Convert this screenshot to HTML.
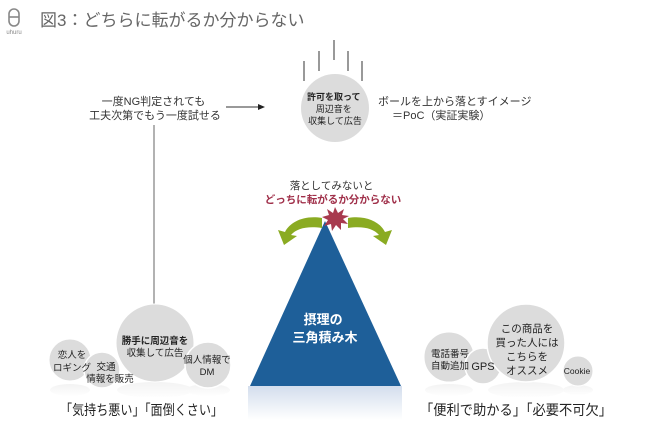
<!DOCTYPE html>
<html><head><meta charset="utf-8"><style>
html,body{margin:0;padding:0;background:#fff;}
svg{display:block;font-family:"Liberation Sans","Noto Sans CJK JP",sans-serif;}
</style></head><body>
<svg width="650" height="432" viewBox="0 0 650 432">
<defs>
<linearGradient id="rf" x1="0" y1="0" x2="0" y2="1">
<stop offset="0" stop-color="#d3dded"/><stop offset="1" stop-color="#fff"/>
</linearGradient>
<linearGradient id="cr" x1="0" y1="0" x2="0" y2="1">
<stop offset="0" stop-color="#eee"/><stop offset="1" stop-color="#fff"/>
</linearGradient>
</defs>
<g stroke="#888" stroke-width="1.6" fill="none">
<rect x="9" y="9" width="10" height="17" rx="5"/>
<line x1="9" y1="17" x2="19" y2="17"/>
</g>
<text x="14" y="34" font-size="6" fill="#888" text-anchor="middle">uhuru</text>
<text x="40" y="26" font-size="17" fill="#666">図3：どちらに転がるか分からない</text>
<g stroke="#333" stroke-width="1">
<line x1="304" y1="61" x2="304" y2="81"/>
<line x1="319" y1="51" x2="319" y2="71"/>
<line x1="334" y1="40" x2="334" y2="60"/>
<line x1="348" y1="51" x2="348" y2="71"/>
<line x1="362" y1="61" x2="362" y2="81"/>
</g>
<circle cx="335" cy="108" r="34" fill="#dcdcdc"/>
<text text-anchor="middle" font-size="9" fill="#222">
<tspan x="335" y="100" font-weight="bold">許可を取って</tspan>
<tspan x="335" y="112">周辺音を</tspan>
<tspan x="335" y="124">収集して広告</tspan>
</text>
<text text-anchor="middle" font-size="11" fill="#333">
<tspan x="155" y="105">一度NG判定されても</tspan>
<tspan x="155" y="119">工夫次第でもう一度試せる</tspan>
</text>
<line x1="226" y1="107" x2="258" y2="107" stroke="#333" stroke-width="1"/>
<polygon points="258,104 265,107 258,110" fill="#222"/>
<line x1="154" y1="125" x2="154" y2="310" stroke="#666" stroke-width="1"/>
<text font-size="11" fill="#333">
<tspan x="378" y="105">ボールを上から落とすイメージ</tspan>
<tspan x="392" y="119">＝PoC（実証実験）</tspan>
</text>
<text text-anchor="middle" font-size="10.5">
<tspan x="333" y="189" fill="#333">落としてみないと</tspan>
<tspan x="333" y="203" fill="#a0304a" font-weight="bold">どっちに転がるか分からない</tspan>
</text>
<rect x="248" y="386" width="154" height="34" fill="url(#rf)"/>
<polygon points="325,221 250,386 401,386" fill="#1e5f99"/>
<text text-anchor="middle" font-size="13" fill="#fff" font-weight="bold">
<tspan x="325" y="324">摂理の</tspan>
<tspan x="325" y="342">三角積み木</tspan>
</text>
<polygon fill="#a83a4e" points="335,207 338,213 344,209 342,215 349,216 343,219 348,224 341,223 341,230 336,225 332,231 331,224 324,226 328,220 322,217 329,215 327,209 333,213"/>
<path d="M322,218 C304,215 290,222 285,232 L278,230 L284,245 L297,236 L291,235 C297,228 308,226 322,228 Z" fill="#8aab22"/>
<path d="M348,218 C366,215 380,222 385,232 L392,230 L386,245 L373,236 L379,235 C373,228 362,226 348,228 Z" fill="#8aab22"/>
<g fill="url(#cr)" opacity="0.7">
<ellipse cx="155" cy="390" rx="38" ry="8"/><ellipse cx="70" cy="390" rx="20" ry="6"/><ellipse cx="208" cy="390" rx="22" ry="6"/>
<ellipse cx="526" cy="390" rx="38" ry="8"/><ellipse cx="449" cy="390" rx="24" ry="6"/><ellipse cx="578" cy="390" rx="15" ry="5"/>
</g>
<circle cx="70" cy="360" r="21" fill="#dcdcdc" stroke="#fff"/>
<circle cx="155" cy="343" r="39" fill="#dcdcdc" stroke="#fff"/>
<circle cx="102" cy="370" r="18" fill="#dcdcdc" stroke="#fff" stroke-width="1.5"/>
<circle cx="208" cy="365" r="23" fill="#dcdcdc" stroke="#fff" stroke-width="1.5"/>
<g text-anchor="middle" font-size="9.5" fill="#222">
<text x="72" y="358">恋人を</text><text x="72" y="371">ロギング</text>
<text x="106" y="370">交通</text><text x="110" y="382">情報を販売</text>
<text x="155" y="344" font-weight="bold">勝手に周辺音を</text><text x="155" y="356">収集して広告</text>
<text x="207" y="363">個人情報で</text><text x="207" y="375">DM</text>
</g>
<circle cx="449" cy="357" r="25" fill="#dcdcdc" stroke="#fff"/>
<circle cx="483" cy="366" r="18" fill="#dcdcdc" stroke="#fff" stroke-width="1.5"/>
<circle cx="526" cy="343" r="39" fill="#dcdcdc" stroke="#fff" stroke-width="1.5"/>
<circle cx="578" cy="371" r="15" fill="#dcdcdc" stroke="#fff"/>
<g text-anchor="middle" font-size="9.5" fill="#222">
<text x="450" y="357">電話番号</text><text x="450" y="369">自動追加</text>
<text x="483" y="370" font-size="11">GPS</text>
<text x="527" y="332" font-size="10.5">この商品を</text><text x="527" y="346" font-size="10.5">買った人には</text>
<text x="527" y="360" font-size="10.5">こちらを</text><text x="527" y="374" font-size="10.5">オススメ</text>
<text x="577" y="374" font-size="8.5">Cookie</text>
</g>
<text x="60" y="415" font-size="14" fill="#222" textLength="163" lengthAdjust="spacingAndGlyphs">「気持ち悪い」「面倒くさい」</text>
<text x="420" y="415" font-size="14" fill="#222" textLength="192" lengthAdjust="spacingAndGlyphs">「便利で助かる」「必要不可欠」</text>
</svg>
</body></html>
